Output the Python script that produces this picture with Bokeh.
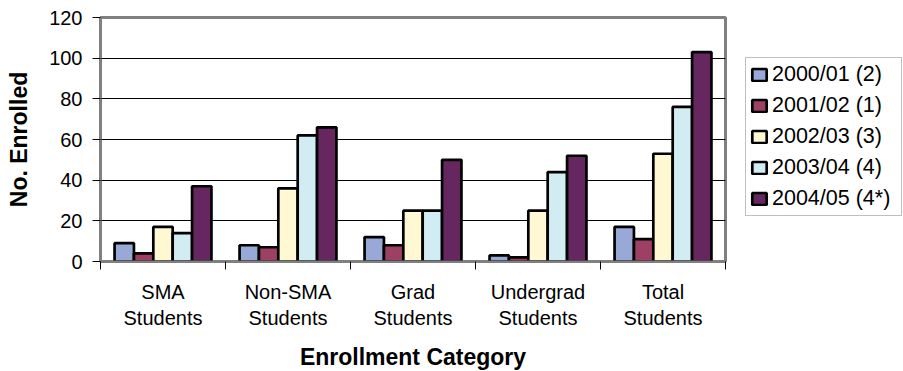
from bokeh.plotting import figure
from bokeh.models import Range1d, FixedTicker, Legend, LegendItem, ColumnDataSource
from bokeh.embed import file_html
from bokeh.resources import INLINE

categories = ["SMA\nStudents", "Non-SMA\nStudents", "Grad\nStudents", "Undergrad\nStudents", "Total\nStudents"]
series_names = ["2000/01 (2)", "2001/02 (1)", "2002/03 (3)", "2003/04 (4)", "2004/05 (4*)"]
y2000 = [9, 8, 12, 3, 17]
y2001 = [4, 7, 8, 2, 11]
y2002 = [17, 36, 25, 25, 53]
y2003 = [14, 62, 25, 44, 76]
y2004 = [37, 66, 50, 52, 103]
series_values = [y2000, y2001, y2002, y2003, y2004]
colors = ["#98A9D8", "#9E3F64", "#FFF8D2", "#D2ECF4", "#66265F"]
y_ticks = [0, 20, 40, 60, 80, 100, 120]

FONT = "Liberation Sans"
bar_w = 0.155

p = figure(frame_width=625, frame_height=244, output_backend="svg", toolbar_location=None,
           x_range=Range1d(0, len(categories)), y_range=Range1d(0, 120),
           min_border_left=100, min_border_right=0, min_border_top=17, min_border_bottom=110)
p.background_fill_color = "white"
p.border_fill_color = "white"
p.outline_line_color = "#808080"
p.outline_line_width = 3

items = []
for j, (name, vals, c) in enumerate(zip(series_names, series_values, colors)):
    xs = [i + 0.5 + (j - 2) * bar_w for i in range(len(categories))]
    src = ColumnDataSource(dict(x=xs, top=vals))
    r = p.vbar(x="x", top="top", width=bar_w, bottom=0, source=src,
               fill_color=c, line_color="black", line_width=2.7)
    items.append(LegendItem(label=name, renderers=[r]))

# axes
p.xgrid.visible = False
p.ygrid.grid_line_color = "black"
p.ygrid.grid_line_width = 1
p.ygrid.ticker = FixedTicker(ticks=y_ticks)

ya = p.yaxis[0]
ya.ticker = FixedTicker(ticks=y_ticks)
ya.axis_line_color = "#808080"
ya.axis_line_width = 2
ya.major_tick_line_color = "black"
ya.major_tick_out = 8
ya.major_tick_in = 0
ya.minor_tick_line_color = None
ya.major_label_text_font = FONT
ya.major_label_text_font_size = "20px"
ya.major_label_text_color = "black"
ya.major_label_standoff = 10
ya.axis_label = "No. Enrolled"
ya.axis_label_text_font = FONT
ya.axis_label_text_font_style = "bold"
ya.axis_label_text_font_size = "23px"
ya.axis_label_text_color = "black"
ya.axis_label_standoff = 14

xa = p.xaxis[0]
xa.ticker = FixedTicker(ticks=[i + 0.5 for i in range(len(categories))],
                        minor_ticks=list(range(len(categories) + 1)))
xa.major_label_overrides = {i + 0.5: lab for i, lab in enumerate(categories)}
xa.axis_line_color = "#808080"
xa.axis_line_width = 2
xa.major_tick_line_color = None
xa.major_tick_out = 0
xa.minor_tick_line_color = "black"
xa.minor_tick_out = 8
xa.minor_tick_in = 0
xa.major_label_text_font = FONT
xa.major_label_text_font_size = "20px"
xa.major_label_text_color = "black"
xa.major_label_standoff = 11
xa.axis_label = "Enrollment Category"
xa.axis_label_text_font = FONT
xa.axis_label_text_font_style = "bold"
xa.axis_label_text_font_size = "23px"
xa.axis_label_text_color = "black"
xa.axis_label_standoff = 12

legend = Legend(items=items, location=(20, 45))
legend.label_text_font = FONT
legend.label_text_font_size = "21.5px"
legend.label_text_color = "black"
legend.glyph_width = 18
legend.glyph_height = 15
legend.label_standoff = 4
legend.label_height = 25
legend.label_width = 125
legend.spacing = 6
legend.padding = 4
legend.margin = 0
legend.border_line_color = "#808080"
legend.border_line_width = 1
legend.background_fill_color = "white"
legend.background_fill_alpha = 1
p.add_layout(legend, "right")

open("out.html", "w").write(file_html(p, INLINE))
